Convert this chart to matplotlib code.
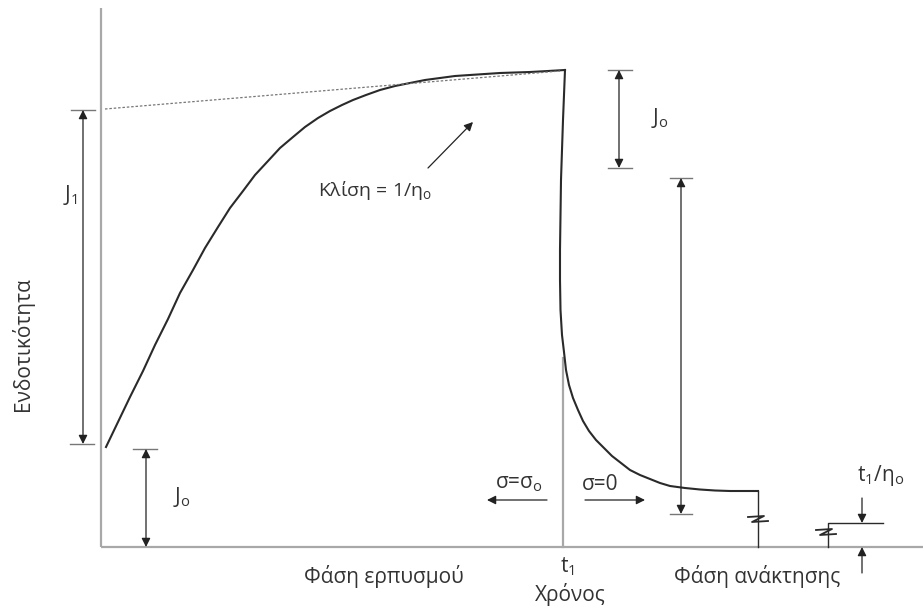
import matplotlib
matplotlib.use("Agg")
import matplotlib.pyplot as plt
import numpy as np

plt.rcParams['font.family'] = ['Open Sans', 'DejaVu Sans']
plt.rcParams['mathtext.fontset'] = 'custom'
plt.rcParams['mathtext.rm'] = 'Open Sans'

# Creep branch (time, compliance) in sketch units, y grows downward
creep_t = [106, 118, 130, 143, 155, 168, 180, 193, 205, 218, 230, 243, 255,
           268, 280, 293, 305, 318, 330, 342, 353, 366, 380, 395, 410, 425,
           440, 455, 470, 485, 500, 515, 530, 548, 565]
creep_j = [447, 422, 397, 371, 345, 319, 293, 270, 248, 227, 208, 191, 175,
           161, 148, 137, 127, 118, 111, 105, 100, 95, 90, 86, 83, 80,
           78, 76, 75, 74, 73, 72.5, 72, 71, 70]

# Recovery branch after unloading at t1
recov_t = [565, 564, 563, 562, 561, 560.5, 560, 560, 560.5, 562, 564, 566,
           569, 573, 578, 583, 589, 596, 604, 612, 621, 630, 640, 650, 660,
           670, 685, 700, 715, 730, 745, 758]
recov_j = [70, 95, 120, 150, 180, 215, 250, 280, 310, 335, 352, 370,
           385, 398, 410, 421, 431, 440, 448, 456, 463, 470, 475, 479, 483,
           486, 488, 489.5, 490.5, 491, 491, 491]

# Asymptote of the steady flow part (slope 1/eta0)
slope_t = [105, 560]
slope_j = [109, 71]

AXIS_X, AXIS_Y = 101, 547
T1 = 563

fig = plt.figure(figsize=(9.23, 6.08), dpi=100)
ax = fig.add_axes([0, 0, 1, 1])
ax.set_xlim(0, 923)
ax.set_ylim(608, 0)
ax.axis('off')

grey = '#a8a8a8'
dark = '#2a2a2a'
txt = '#333333'
FS = 15

# axes
ax.plot([AXIS_X, AXIS_X], [8, AXIS_Y], color=grey, lw=1.6, solid_capstyle='butt')
ax.plot([AXIS_X, 923], [AXIS_Y, AXIS_Y], color=grey, lw=1.6, solid_capstyle='butt')
ax.plot([T1, T1], [358, AXIS_Y], color=grey, lw=1.6)

# curves
ax.plot(creep_t, creep_j, color=dark, lw=1.5)
ax.plot(recov_t, recov_j, color=dark, lw=1.5)
ax.plot([758, 758], [491, AXIS_Y], color=dark, lw=1.0)
ax.plot([828, 828, 883], [AXIS_Y, 523, 523], color=dark, lw=1.0)
ax.plot(slope_t, slope_j, color='#777777', lw=0.9, ls=(0, (2, 1.5)))


def brk(x, y):
    # small zigzag marking a broken time axis
    ax.plot([x - 10, x + 6, x - 6, x + 10], [y - 2, y - 3, y + 3, y + 2],
            color=dark, lw=1.3)


brk(758, 519)
brk(826, 532)


def arrow(x0, y0, x1, y1, style='-|>'):
    ax.annotate('', xy=(x1, y1), xytext=(x0, y0),
                arrowprops=dict(arrowstyle=style, color='#222222', lw=0.9,
                                shrinkA=0, shrinkB=0,
                                mutation_scale=13))


def cap(x, y, half=12):
    ax.plot([x - half, x + half], [y, y], color='#777777', lw=1.0)


def label(x, y, s, **kw):
    ax.text(x, y, s, fontsize=kw.pop('fontsize', FS), ha='center', va='center',
            color=txt, **kw)


# J1 span
arrow(83, 110, 83, 444, '<|-|>')
cap(83, 110)
cap(82, 444)
label(70, 195, r'J$_\mathregular{1}$')

# J0 elastic jump at loading
arrow(146, 449, 146, AXIS_Y, '<|-|>')
cap(145, 449)
label(182, 497, r'J$_\mathregular{o}$')

# J0 elastic recovery at unloading
arrow(619, 70, 619, 168, '<|-|>')
cap(620, 70)
cap(620, 168)
label(660, 118, r'J$_\mathregular{o}$')

# delayed recovery span
arrow(681, 178, 681, 514, '<|-|>')
cap(681, 178, 11)
cap(681, 514, 11)

# slope label
label(375, 190, r'Κλίση = 1/η$_\mathregular{o}$', fontsize=14)
arrow(428, 168, 473, 122)

# loading / unloading indicators
label(519, 484, r'σ=σ$_\mathregular{o}$')
arrow(547, 500, 487, 500)
label(600, 484, 'σ=0')
arrow(585, 500, 645, 500)

# permanent strain t1/eta0
arrow(862, 498, 862, 523)
arrow(862, 573, 862, AXIS_Y)
label(881, 476, r't$_\mathregular{1}$/η$_\mathregular{o}$')

# axis texts
label(384, 576, 'Φάση ερπυσμού')
label(567, 567, r't$_\mathregular{1}$')
label(570, 594, 'Χρόνος')
label(757, 576, 'Φάση ανάκτησης')
label(22, 344, 'Ενδοτικότητα', rotation=90)

fig.savefig('out.png', dpi=100, facecolor='white')
